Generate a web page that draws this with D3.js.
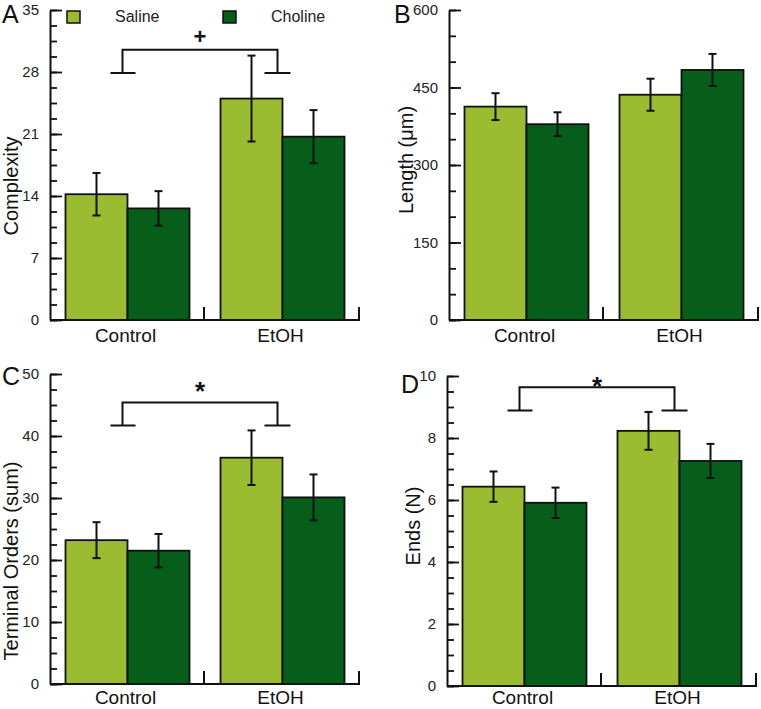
<!DOCTYPE html>
<html>
<head>
<meta charset="utf-8">
<script src="https://cdn.jsdelivr.net/npm/d3@7"></script>
<style>
  body { margin: 0; background: #fff; }
  svg { font-family: "Liberation Sans", Arial, sans-serif; }
</style>
</head>
<body>
<div class="chart-box"></div>
<script>
// groups on the x axis and the two treatments
const groups = ["Control", "EtOH"];
const series = ["Saline", "Choline"];

// values in order: Control/Saline, Control/Choline, EtOH/Saline, EtOH/Choline
const complexity = [14.2, 12.6, 25.0, 20.7];
const complexityErr = [2.4, 1.95, 4.85, 3.0];
const lengthUm = [413, 379, 436, 484];
const lengthErr = [26, 23, 31, 31];
const terminalOrders = [23.2, 21.5, 36.5, 30.1];
const terminalErr = [2.9, 2.7, 4.4, 3.7];
const ends = [6.43, 5.91, 8.23, 7.26];
const endsErr = [0.49, 0.49, 0.61, 0.55];

// y tick labels per panel
const ticksA = [0, 7, 14, 21, 28, 35];
const ticksB = [0, 150, 300, 450, 600];
const ticksC = [0, 10, 20, 30, 40, 50];
const ticksD = [0, 2, 4, 6, 8, 10];

// significance brackets: [top, foot] in data units
const bracketA = {label: "+", top: 30.5, foot: 27.9};
const bracketC = {label: "*", top: 45.4, foot: 41.7};
const bracketD = {label: "*", top: 9.64, foot: 8.89};

const colors = {Saline: "#9bbb30", Choline: "#075e1b"};

const panels = [
  {letter: "A", title: "Complexity", values: complexity, errs: complexityErr,
   ticks: ticksA, minorStep: 1.75, bracket: bracketA, legend: true,
   x0: 50, top: 10, bottom: 320, titleX: 18, titleY: 186, letterX: 2, letterY: 23, labelDy: -6, catDy: 22},
  {letter: "B", title: "Length (μm)", values: lengthUm, errs: lengthErr,
   ticks: ticksB, minorStep: 50, bracket: null,
   x0: 449, top: 10, bottom: 320, titleX: 413, titleY: 160, letterX: 394, letterY: 23, catDy: 22},
  {letter: "C", title: "Terminal Orders (sum)", values: terminalOrders, errs: terminalErr,
   ticks: ticksC, minorStep: 2.5, bracket: bracketC,
   x0: 50, top: 374, bottom: 684, titleX: 18, titleY: 561, letterX: 2, letterY: 385, labelDy: -3, catDy: 20},
  {letter: "D", title: "Ends (N)", values: ends, errs: endsErr,
   ticks: ticksD, minorStep: 0.5, bracket: bracketD,
   x0: 447, top: 376, bottom: 686, titleX: 420, titleY: 526, letterX: 401, letterY: 393, labelDy: 8, catDy: 18}
];

const plotWidth = 310;

const svg = d3.select(".chart-box").append("svg")
  .attr("width", 761)
  .attr("height", 709);

panels.forEach(p => {
  const g = svg.append("g");
  const maxV = p.ticks[p.ticks.length - 1];

  const y = d3.scaleLinear().domain([0, maxV]).range([p.bottom, p.top]);
  const x = d3.scaleBand().domain(groups).range([p.x0, p.x0 + plotWidth]);
  const xSub = d3.scaleBand().domain(series).range([0, x.bandwidth()])
    .paddingInner(0).paddingOuter(0.25);

  const rows = [];
  groups.forEach((grp, gi) => {
    series.forEach((s, si) => {
      const i = gi * series.length + si;
      rows.push({group: grp, series: s, value: p.values[i], err: p.errs[i]});
    });
  });

  // bars
  g.selectAll("rect.bar")
    .data(rows)
    .enter()
    .append("rect")
    .attr("class", "bar")
    .attr("x", d => x(d.group) + xSub(d.series))
    .attr("width", xSub.bandwidth())
    .attr("y", d => y(d.value))
    .attr("height", d => p.bottom - y(d.value))
    .attr("fill", d => colors[d.series])
    .attr("stroke", "#111")
    .attr("stroke-width", 1.8);

  // error bars
  const eb = g.selectAll("g.err")
    .data(rows)
    .enter()
    .append("g")
    .attr("class", "err")
    .attr("stroke", "#111")
    .attr("stroke-width", 2);
  const cx = d => x(d.group) + xSub(d.series) + xSub.bandwidth() / 2;
  eb.append("line")
    .attr("x1", cx).attr("x2", cx)
    .attr("y1", d => y(d.value + d.err))
    .attr("y2", d => y(d.value - d.err));
  eb.append("line")
    .attr("x1", d => cx(d) - 4).attr("x2", d => cx(d) + 4)
    .attr("y1", d => y(d.value + d.err)).attr("y2", d => y(d.value + d.err));
  eb.append("line")
    .attr("x1", d => cx(d) - 4).attr("x2", d => cx(d) + 4)
    .attr("y1", d => y(d.value - d.err)).attr("y2", d => y(d.value - d.err));

  // minor ticks
  const minor = d3.range(0, maxV + 1e-9, p.minorStep);
  g.append("g")
    .attr("transform", "translate(" + p.x0 + ",0)")
    .call(d3.axisLeft(y).tickValues(minor).tickSize(-7).tickFormat(""))
    .call(a => a.select(".domain").remove())
    .selectAll("line").attr("stroke", "#111").attr("stroke-width", 1.8);

  // major ticks + y axis line
  const yAxis = g.append("g")
    .attr("transform", "translate(" + p.x0 + ",0)")
    .call(d3.axisLeft(y).tickValues(p.ticks).tickSizeInner(-12).tickSizeOuter(0).tickPadding(11));
  yAxis.select(".domain").attr("stroke", "#111").attr("stroke-width", 2);
  yAxis.selectAll("line").attr("stroke", "#111").attr("stroke-width", 1.8);
  yAxis.selectAll("text")
    .attr("font-size", 15)
    .attr("font-family", "Liberation Sans, Arial, sans-serif")
    .attr("fill", "#222");

  // x axis line + group separators
  g.append("line")
    .attr("x1", p.x0).attr("x2", p.x0 + plotWidth)
    .attr("y1", p.bottom).attr("y2", p.bottom)
    .attr("stroke", "#111").attr("stroke-width", 2);
  g.selectAll("line.sep")
    .data(groups)
    .enter()
    .append("line")
    .attr("class", "sep")
    .attr("x1", d => x(d) + x.bandwidth() - 1)
    .attr("x2", d => x(d) + x.bandwidth() - 1)
    .attr("y1", p.bottom).attr("y2", p.bottom - 13)
    .attr("stroke", "#111").attr("stroke-width", 2);
  g.selectAll("text.cat")
    .data(groups)
    .enter()
    .append("text")
    .attr("class", "cat")
    .attr("x", d => x(d) + x.bandwidth() / 2 - 2)
    .attr("y", p.bottom + p.catDy)
    .attr("text-anchor", "middle")
    .attr("font-size", 19)
    .attr("fill", "#111")
    .text(d => d);

  // axis title
  g.append("text")
    .attr("transform", "translate(" + p.titleX + "," + p.titleY + ") rotate(-90)")
    .attr("text-anchor", "middle")
    .attr("font-size", 20)
    .attr("fill", "#111")
    .text(p.title);

  // panel letter
  g.append("text")
    .attr("x", p.letterX).attr("y", p.letterY)
    .attr("font-size", 25)
    .attr("fill", "#111")
    .text(p.letter);

  // significance bracket
  if (p.bracket) {
    const b = p.bracket;
    const xl = x(groups[0]) + x.bandwidth() / 2 - 5;
    const xr = x(groups[1]) + x.bandwidth() / 2 - 5;
    const path = d3.path();
    path.moveTo(xl - 12, y(b.foot));
    path.lineTo(xl + 13, y(b.foot));
    path.moveTo(xl, y(b.foot));
    path.lineTo(xl, y(b.top));
    path.lineTo(xr, y(b.top));
    path.lineTo(xr, y(b.foot));
    path.moveTo(xr - 13, y(b.foot));
    path.lineTo(xr + 13, y(b.foot));
    g.append("path")
      .attr("d", path.toString())
      .attr("fill", "none")
      .attr("stroke", "#111")
      .attr("stroke-width", 2);
    g.append("text")
      .attr("x", (xl + xr) / 2)
      .attr("y", y(b.top) + p.labelDy)
      .attr("text-anchor", "middle")
      .attr("font-size", b.label === "+" ? 22 : 26)
      .attr("font-weight", "bold")
      .attr("fill", "#111")
      .text(b.label);
  }

  // legend (panel A only)
  if (p.legend) {
    const lg = g.selectAll("g.legend")
      .data(series)
      .enter()
      .append("g")
      .attr("class", "legend")
      .attr("transform", (d, i) => "translate(" + (67 + i * 156) + "," + 11 + ")");
    lg.append("rect")
      .attr("width", 13).attr("height", 12)
      .attr("fill", d => colors[d])
      .attr("stroke", "#111").attr("stroke-width", 1.5);
    lg.append("text")
      .attr("x", 48).attr("y", 11)
      .attr("font-size", 16)
      .attr("fill", "#222")
      .text(d => d);
  }
});
</script>
</body>
</html>
